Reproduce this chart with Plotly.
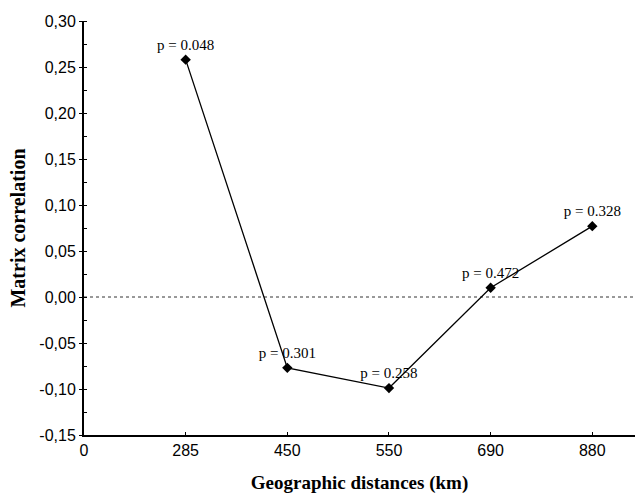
import plotly.graph_objects as go

# ---- data ----
categories = ["0", "285", "450", "550", "690", "880"]
distances = ["285", "450", "550", "690", "880"]
correlation = [0.258, -0.077, -0.099, 0.010, 0.077]
p_labels = ["p = 0.048", "p = 0.301", "p = 0.258", "p = 0.472", "p = 0.328"]
y_tickvals = [-0.15, -0.10, -0.05, 0.00, 0.05, 0.10, 0.15, 0.20, 0.25, 0.30]
y_ticktext = ["-0,15", "-0,10", "-0,05", "0,00", "0,05", "0,10", "0,15", "0,20", "0,25", "0,30"]

serif = "Liberation Serif, Times New Roman, serif"
sans = "Liberation Sans, Arial, sans-serif"

fig = go.Figure()
fig.add_trace(go.Scatter(
    x=distances, y=correlation,
    mode="lines+markers+text",
    line=dict(color="black", width=1.3),
    marker=dict(symbol="diamond", size=8, color="black"),
    text=p_labels, textposition="top center",
    textfont=dict(family=serif, size=15, color="black"),
    cliponaxis=False,
    showlegend=False,
))

fig.add_shape(type="line", xref="paper", yref="y", x0=0, x1=1, y0=0, y1=0,
              line=dict(color="#333", width=1, dash="dot"), layer="below")

fig.update_layout(
    width=635, height=494,
    margin=dict(l=84, r=0, t=21, b=59),
    paper_bgcolor="white", plot_bgcolor="white",
    xaxis=dict(
        type="category", categoryorder="array", categoryarray=categories,
        tickvals=categories, ticktext=categories,
        range=[0, 5.42],
        showgrid=False, zeroline=False,
        showline=True, linecolor="black", linewidth=2,
        ticks="inside", ticklen=3, tickcolor="black", tickwidth=1,
        tickfont=dict(family=sans, size=16, color="black"),
        title=dict(text="<b>Geographic distances (km)</b>",
                   font=dict(family=serif, size=19, color="black"), standoff=19),
    ),
    yaxis=dict(
        range=[-0.15, 0.30],
        tickvals=y_tickvals, ticktext=y_ticktext,
        showgrid=False, zeroline=False,
        showline=True, linecolor="black", linewidth=2,
        ticks="outside", ticklen=3, tickcolor="black", tickwidth=1,
        minor=dict(dtick=0.025, ticks="inside", ticklen=3, tickcolor="black", tickwidth=1, showgrid=False),
        tickfont=dict(family=sans, size=16, color="black"),
        title=dict(text="<b>Matrix correlation</b>",
                   font=dict(family=serif, size=20, color="black"), standoff=8),
    ),
)

fig.write_html("out.html")
